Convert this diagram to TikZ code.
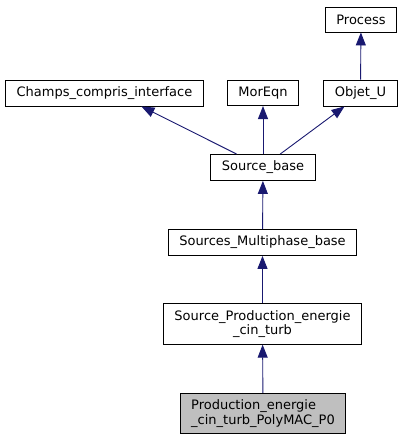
\documentclass[tikz,border=0pt]{standalone}
\usepackage{fontspec}
\setmainfont{DejaVu Sans}
\usetikzlibrary{arrows.meta,positioning}
\definecolor{edgeblue}{rgb}{0.1, 0.1, 0.44}
\definecolor{focusgray}{rgb}{0.75, 0.75, 0.75}

\tikzset{
  cls/.style={draw=black, fill=white, rectangle, line width=0.9pt, inner xsep=11pt, inner ysep=6.5pt, minimum height=25pt, font=\fontsize{13}{14.5}\selectfont, align=center},
  inh/.style={edgeblue, line width=0.9pt, -{Triangle[length=13pt,width=10pt]}}
}

\begin{document}
\begin{tikzpicture}[x=1pt,y=-1pt]
            \useasboundingbox (0,0) rectangle (403,440);
            % base classes
            \node[cls] (process) at (361,19.5) {Process};
            \node[cls] (champs) at (104.5,93) {Champs\_compris\_interface};
            \node[cls] (moreqn) at (263,93) {MorEqn};
            \node[cls] (objet) at (360.5,93) {Objet\_U};

            % sources
            \node[cls] (sbase) at (263,167.5) {Source\_base};
            \node[cls] (smulti) at (262.5,242.5) {Sources\_Multiphase\_base};
            \node[cls] (sprod) at (262.5,324) {Source\_Production\_energie\\\_cin\_turb};
            \node[cls, fill=focusgray, align=left] (prod) at (263,413.5) {Production\_energie\\\_cin\_turb\_PolyMAC\_P0};

            % inheritance
            \draw[inh] (objet) -- (process);
            \draw[inh] (sbase.153) -- (champs.-20);
            \draw[inh] (sbase) -- (moreqn);
            \draw[inh] (sbase.38) -- (objet.220);
            \draw[inh] (smulti) -- (sbase);
            \draw[inh] (sprod) -- (smulti);
            \draw[inh] (prod) -- (sprod);
\end{tikzpicture}
\end{document}
